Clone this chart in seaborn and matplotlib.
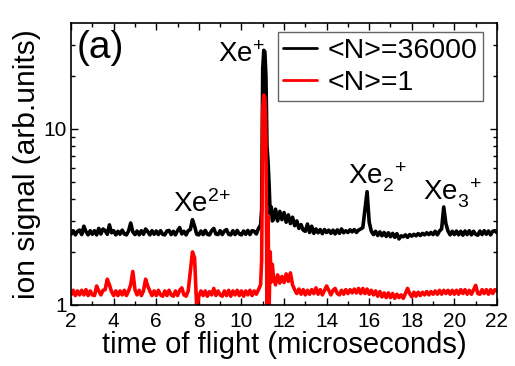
import numpy as np
import pandas as pd
import matplotlib
matplotlib.use("Agg")
import matplotlib.pyplot as plt
import seaborn as sns
from matplotlib.ticker import FixedLocator, NullFormatter, MultipleLocator

# time-of-flight grid (microseconds), 0.1 us steps, plus a finer set over the Xe+ peak
tof_grid = np.round(np.arange(2.0, 22.0001, 0.1), 2)
tof_peak = [10.95, 11.05, 11.15, 11.25, 11.35, 11.45]

# <N>=36000 signal, one row per microsecond (x.0 ... x.9)
sig_cluster = [
    2.52, 2.64, 2.50, 2.62, 2.66, 2.51, 2.80, 2.61, 2.50, 2.64,   # 2
    2.52, 2.64, 2.50, 2.72, 2.53, 2.70, 2.64, 2.52, 2.85, 2.57,   # 3
    2.64, 2.50, 2.62, 2.52, 2.66, 2.53, 2.50, 2.63, 2.92, 2.60,   # 4
    2.51, 2.63, 2.50, 2.64, 2.52, 2.70, 2.61, 2.50, 2.64, 2.52,   # 5
    2.63, 2.51, 2.64, 2.52, 2.50, 2.63, 2.65, 2.51, 2.62, 2.50,   # 6
    2.64, 2.75, 2.53, 2.62, 2.50, 2.64, 2.68, 3.05, 2.80, 2.52,   # 7
    2.50, 2.63, 2.51, 2.65, 2.52, 2.50, 2.64, 2.72, 2.53, 2.51,   # 8
    2.64, 2.51, 2.63, 2.68, 2.52, 2.50, 2.64, 2.51, 2.65, 2.53,   # 9
    2.50, 2.63, 2.52, 2.65, 2.51, 2.64, 2.62, 2.53, 2.72, 2.85,   # 10
    22.0, 27.5, 8.00, 4.80, 3.60, 3.05, 3.50, 3.00, 3.40, 3.05,   # 11
    3.35, 2.95, 3.25, 2.90, 3.15, 2.82, 3.00, 2.72, 2.86, 2.66,   # 12
    2.62, 2.88, 2.58, 2.80, 2.55, 2.70, 2.57, 2.68, 2.54, 2.68,   # 13
    2.58, 2.66, 2.55, 2.66, 2.53, 2.67, 2.55, 2.70, 2.57, 2.64,   # 14
    2.58, 2.67, 2.60, 2.68, 2.58, 2.66, 2.70, 2.75, 3.50, 4.40,   # 15
    2.95, 2.62, 2.51, 2.62, 2.48, 2.60, 2.47, 2.58, 2.45, 2.57,   # 16
    2.44, 2.55, 2.42, 2.54, 2.37, 2.47, 2.44, 2.50, 2.42, 2.51,   # 17
    2.46, 2.52, 2.47, 2.54, 2.48, 2.55, 2.50, 2.57, 2.51, 2.58,   # 18
    2.51, 2.62, 2.50, 2.63, 2.70, 3.60, 2.90, 2.63, 2.50, 2.62,   # 19
    2.51, 2.63, 2.50, 2.62, 2.49, 2.63, 2.51, 2.64, 2.50, 2.62,   # 20
    2.52, 2.49, 2.63, 2.51, 2.64, 2.52, 2.63, 2.50, 2.62, 2.64,   # 21
    2.57,                                                         # 22
]
sig_cluster_peak = [3.50, 28.0, 20.0, 6.50, 3.30, 3.00]

# <N>=1 signal
sig_atom = [
    1.14, 1.21, 1.13, 1.20, 1.14, 1.21, 1.14, 1.22, 1.13, 1.20,   # 2
    1.14, 1.13, 1.28, 1.20, 1.14, 1.21, 1.22, 1.40, 1.30, 1.19,   # 3
    1.13, 1.20, 1.13, 1.20, 1.14, 1.21, 1.13, 1.20, 1.30, 1.55,   # 4
    1.22, 1.14, 1.21, 1.13, 1.20, 1.40, 1.28, 1.20, 1.13, 1.20,   # 5
    1.13, 1.21, 1.14, 1.12, 1.20, 1.13, 1.21, 1.14, 1.12, 1.20,   # 6
    1.13, 1.21, 1.25, 1.14, 1.12, 1.20, 1.55, 2.00, 1.85, 0.96,   # 7
    1.12, 1.20, 1.13, 1.20, 1.12, 1.19, 1.14, 1.24, 1.13, 1.20,   # 8
    1.14, 1.12, 1.20, 1.13, 1.21, 1.12, 1.20, 1.14, 1.21, 1.13,   # 9
    1.20, 1.12, 1.20, 1.14, 1.21, 1.13, 1.20, 1.15, 1.22, 1.30,   # 10
    13.0, 15.0, 0.90, 0.95, 1.35, 1.45, 1.30, 1.48, 1.33, 1.45,   # 11
    1.34, 1.50, 1.36, 1.52, 1.30, 1.22, 1.16, 1.23, 1.15, 1.22,   # 12
    1.14, 1.21, 1.15, 1.22, 1.16, 1.25, 1.15, 1.22, 1.14, 1.21,   # 13
    1.28, 1.21, 1.14, 1.21, 1.24, 1.16, 1.14, 1.21, 1.15, 1.22,   # 14
    1.16, 1.22, 1.17, 1.23, 1.17, 1.24, 1.16, 1.24, 1.16, 1.23,   # 15
    1.15, 1.21, 1.14, 1.20, 1.12, 1.19, 1.11, 1.17, 1.10, 1.17,   # 16
    1.10, 1.16, 1.09, 1.15, 1.10, 1.14, 1.09, 1.16, 1.24, 1.16,   # 17
    1.11, 1.18, 1.12, 1.18, 1.13, 1.18, 1.14, 1.19, 1.14, 1.19,   # 18
    1.15, 1.20, 1.15, 1.21, 1.15, 1.21, 1.16, 1.21, 1.15, 1.21,   # 19
    1.15, 1.21, 1.15, 1.22, 1.16, 1.22, 1.15, 1.21, 1.15, 1.22,   # 20
    1.29, 1.16, 1.15, 1.22, 1.16, 1.22, 1.15, 1.22, 1.16, 1.22,   # 21
    1.20,                                                         # 22
]
sig_atom_peak = [1.80, 15.6, 9.00, 3.20, 2.00, 1.70]

labels = ["<N>=36000", "<N>=1"]
colors = ["black", "red"]
peak_names = [r"Xe$^{+}$", r"Xe$^{2{+}}$", r"Xe$_{2}^{\;\;+}$", r"Xe$_{3}^{\;\;+}$"]

sns.set_theme(style="ticks")
plt.rcParams["font.family"] = ["Liberation Sans", "DejaVu Sans"]
plt.rcParams["mathtext.fontset"] = "custom"
plt.rcParams["mathtext.rm"] = "Liberation Sans"
plt.rcParams["mathtext.it"] = "Liberation Sans:italic"
for key in ["text.color", "axes.labelcolor", "xtick.color", "ytick.color"]:
    plt.rcParams[key] = "black"

frames = []
for lab, base, peak in [(labels[0], sig_cluster, sig_cluster_peak),
                        (labels[1], sig_atom, sig_atom_peak)]:
    frames.append(pd.DataFrame({"tof": tof_grid, "signal": base, "series": lab}))
    frames.append(pd.DataFrame({"tof": tof_peak, "signal": peak, "series": lab}))
df = pd.concat(frames, ignore_index=True).sort_values(["series", "tof"])

fig = plt.figure(figsize=(5.15, 3.66), dpi=100)
ax = fig.add_axes([0.138, 0.167, 0.827, 0.770])

sns.lineplot(data=df, x="tof", y="signal", hue="series", hue_order=labels,
             palette=dict(zip(labels, colors)), estimator=None, sort=True,
             linewidth=2.6, ax=ax)

ax.set_yscale("log")
ax.set_xlim(2, 22)
ax.set_ylim(1, 40)
ax.xaxis.set_major_locator(MultipleLocator(2))
ax.xaxis.set_minor_locator(MultipleLocator(1))
ax.yaxis.set_major_locator(FixedLocator([1, 10]))
ax.yaxis.set_minor_locator(FixedLocator([2, 3, 4, 5, 6, 7, 8, 9, 20, 30]))
ax.yaxis.set_minor_formatter(NullFormatter())
ax.set_yticklabels(["1", "10"])
ax.tick_params(which="both", direction="in", top=True, right=True,
               width=1.0, color="black", labelcolor="black")
ax.tick_params(which="major", length=5, labelsize=15)
ax.tick_params(axis="x", which="major", pad=5)
ax.tick_params(axis="y", which="major", pad=3)
ax.tick_params(which="minor", length=3)
for sp in ax.spines.values():
    sp.set_linewidth(1.2)
    sp.set_color("black")

ax.set_xlabel("time of flight (microseconds)", fontsize=21, labelpad=0)
ax.set_ylabel("ion signal (arb.units)", fontsize=21.5, labelpad=2)

ax.text(0.012, 0.912, "(a)", transform=ax.transAxes, fontsize=28, va="center")
ax.text(0.345, 0.862, peak_names[0], transform=ax.transAxes, fontsize=20, va="baseline")
ax.text(0.239, 0.330, peak_names[1], transform=ax.transAxes, fontsize=20, va="baseline")
ax.text(0.650, 0.426, peak_names[2], transform=ax.transAxes, fontsize=20, va="baseline")
ax.text(0.826, 0.372, peak_names[3], transform=ax.transAxes, fontsize=20, va="baseline")

handles, _ = ax.get_legend_handles_labels()
leg = ax.legend(handles, labels, loc="upper right", bbox_to_anchor=(0.967, 0.967),
                fontsize=20.5, frameon=True, fancybox=False, edgecolor="0.25",
                handlelength=1.2, handletextpad=0.35, borderpad=0.2,
                labelspacing=0.2, borderaxespad=0)
leg.get_frame().set_linewidth(1.0)
for line in leg.get_lines():
    line.set_linewidth(2.0)

fig.savefig("out.png", dpi=100)
